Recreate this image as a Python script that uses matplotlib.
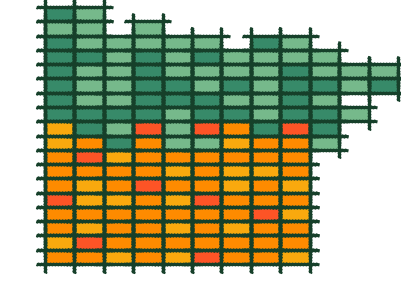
import numpy as np
import matplotlib.pyplot as plt
from matplotlib.colors import ListedColormap

# one string per column, read from bottom row to top row, '.' = empty cell
columns = [
    "OYOOROOOYYDDDDDDLD",
    "ORYOYYORODDLLLDLLL",
    "YOOOYOOYDLDLLLLL..",
    "OOOOOROOORDDDDDLL.",
    "YOYOYOYOLLLDDLLL..",
    "ROOOROOOLRDDLLDL..",
    "OOYOOYYOYODLDLL...",
    "OOOROOYOODLLLLLD..",
    "YOOYOYOOORDDDDLL..",
    "........LDDLDLL...",
    "..........L.LL....",
    "............DL....",
]

codes = ["D", "L", "O", "Y", "R"]
colours = ["#378a69", "#76b98b", "#fe8b00", "#f9a90e", "#fd5426"]
line_colour = "#16402a"

n_cols = len(columns)
n_rows = len(columns[0])

grid = np.full((n_rows, n_cols), np.nan)
for c, col in enumerate(columns):
    for r, ch in enumerate(col):
        if ch in codes:
            grid[r, c] = codes.index(ch)

fig = plt.figure(figsize=(4.02, 2.94), dpi=100)
ax = fig.add_axes([45 / 402, 30 / 294, 353 / 402, 257 / 294])

ax.pcolormesh(np.arange(n_cols + 1), np.arange(n_rows + 1),
              np.ma.masked_invalid(grid), cmap=ListedColormap(colours),
              vmin=-0.5, vmax=len(codes) - 0.5)

# rough cell outlines, every edge overshoots a little
dx, dy = 0.3, 0.6
for c in range(n_cols):
    for r in range(n_rows):
        if np.isnan(grid[r, c]):
            continue
        segs = [
            ([c - dx, c + 1 + dx], [r, r]),
            ([c - dx, c + 1 + dx], [r + 1, r + 1]),
            ([c, c], [r - dy, r + 1 + dy]),
            ([c + 1, c + 1], [r - dy, r + 1 + dy]),
        ]
        for xs, ys in segs:
            ln, = ax.plot(xs, ys, color=line_colour, lw=2.2,
                          solid_capstyle="butt", clip_on=False)
            ln.set_sketch_params(0.5, 3, 1)

ax.set_xlim(0, n_cols)
ax.set_ylim(0, n_rows)
ax.axis("off")

fig.savefig("out.png", dpi=100)
